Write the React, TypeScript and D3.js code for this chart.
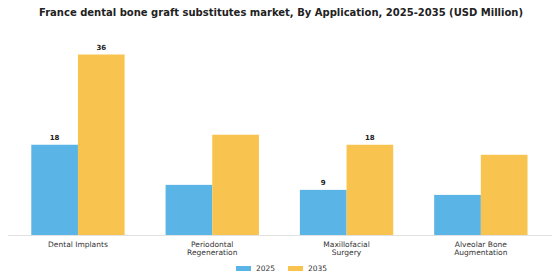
import React from "react";
import * as d3 from "d3";

const title = "France dental bone graft substitutes market, By Application, 2025-2035 (USD Million)";
const categories = ["Dental Implants", "Periodontal\nRegeneration", "Maxillofacial\nSurgery", "Alveolar Bone\nAugmentation"];
const seriesNames = ["2025", "2035"];
const values2025 = [18, 10, 9, 8];
const values2035 = [36, 20, 18, 16];
const labels2025 = ["18", "", "9", ""];
const labels2035 = ["36", "", "18", ""];
const colors = ["#5AB4E5", "#F8C44F"];

const W = 560;
const H = 280;

export default function App() {
  const baseline = 235;
  const x0 = d3.scaleBand<string>().domain(categories).range([10.8, 548]).paddingInner(0.305).paddingOuter(0.1525);
  const x1 = d3.scaleBand<string>().domain(seriesNames).range([0, x0.bandwidth()]).padding(0);
  const y = d3.scaleLinear().domain([0, 36]).range([baseline, 54.5]);
  const series = [values2025, values2035];
  const labels = [labels2025, labels2035];
  const font = "DejaVu Sans, sans-serif";

  return (
    <svg width={W} height={H} style={{ position: "absolute", left: 0, top: 0, background: "#fff" }} fontFamily={font}>
      <text x={281} y={15.5} textAnchor="middle" fontSize={10} fontWeight="bold" fill="#222">{title}</text>
      <line x1={8} x2={552} y1={baseline + 0.5} y2={baseline + 0.5} stroke="#e2e2e2" strokeWidth={1} />
      {categories.map((c, i) => (
        <g key={c}>
          {series.map((vals, s) => {
            const bx = (x0(c) ?? 0) + (x1(seriesNames[s]) ?? 0);
            const by = y(vals[i]);
            return (
              <g key={s}>
                <rect x={bx} y={by} width={x1.bandwidth()} height={baseline - by} fill={colors[s]} />
                {labels[s][i] && (
                  <text x={bx + x1.bandwidth() / 2} y={by - 5} textAnchor="middle" fontSize={7} fontWeight="bold" fill="#222">{labels[s][i]}</text>
                )}
              </g>
            );
          })}
          {c.split("\n").map((line, k) => (
            <text key={k} x={(x0(c) ?? 0) + x0.bandwidth() / 2} y={246.5 + k * 8.6} textAnchor="middle" fontSize={7.5} fill="#333">{line}</text>
          ))}
        </g>
      ))}
      {seriesNames.map((s, i) => (
        <g key={s} transform={`translate(${236 + i * 52},${268.5})`}>
          <rect x={0} y={-2.5} width={15} height={5} fill={colors[i]} />
          <text x={20} y={2.7} fontSize={7.5} fill="#333">{s}</text>
        </g>
      ))}
    </svg>
  );
}
